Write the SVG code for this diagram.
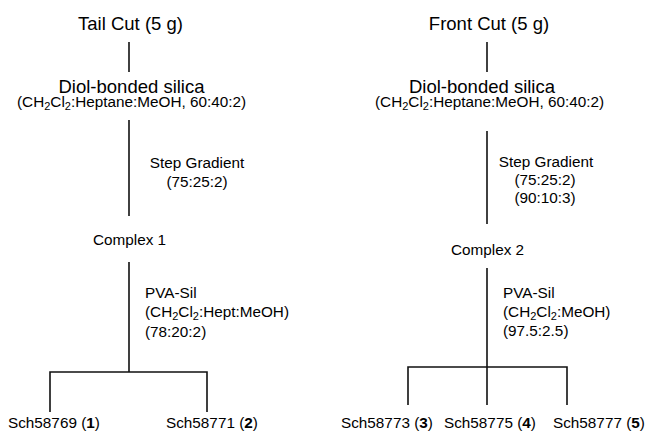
<svg xmlns="http://www.w3.org/2000/svg" width="647" height="435" viewBox="0 0 647 435">
<style>
text{font-family:"Liberation Sans",Arial,sans-serif;fill:#000}
.big{font-size:18.5px}
.sm{font-size:15.3px}
.sub{font-size:11px}
.c{text-anchor:middle}
.ln{stroke:#111;stroke-width:1.6;fill:none}
</style>
<rect width="647" height="435" fill="#fff"/>
<g id="connectors">
<line class="ln" x1="129" y1="42" x2="129" y2="72"/>
<line class="ln" x1="129" y1="120" x2="129" y2="216"/>
<path class="ln" d="M129 262V372M50 412V372H207V412"/>
<line class="ln" x1="487" y1="42" x2="487" y2="72"/>
<line class="ln" x1="487" y1="131" x2="487" y2="224"/>
<path class="ln" d="M487 268V405M408 405V367H567V405"/>
</g>
<g id="tail-cut"><text class="big c" x="130.5" y="30">Tail Cut (5 g)</text></g>
<g id="diol-left">
<text class="big c" x="131.5" y="93">Diol-bonded silica</text>
<text class="sm" x="17" y="107">(CH<tspan class="sub" dy="3">2</tspan><tspan dy="-3">Cl</tspan><tspan class="sub" dy="3">2</tspan><tspan dy="-3">:Heptane:MeOH, 60:40:2)</tspan></text>
</g>
<g id="step-left">
<text class="sm c" x="197" y="168">Step Gradient</text>
<text class="sm c" x="197" y="187">(75:25:2)</text>
</g>
<g id="complex1"><text class="sm c" x="129.5" y="245">Complex 1</text></g>
<g id="pva-left">
<text class="sm" x="145" y="298">PVA-Sil</text>
<text class="sm" x="145" y="317">(CH<tspan class="sub" dy="3">2</tspan><tspan dy="-3">Cl</tspan><tspan class="sub" dy="3">2</tspan><tspan dy="-3">:Hept:MeOH)</tspan></text>
<text class="sm" x="145" y="337">(78:20:2)</text>
</g>
<g id="sch1"><text class="sm" x="8" y="428">Sch58769 (<tspan font-weight="bold">1</tspan>)</text></g>
<g id="sch2"><text class="sm" x="166" y="428">Sch58771 (<tspan font-weight="bold">2</tspan>)</text></g>
<g id="front-cut"><text class="big c" x="489" y="30">Front Cut (5 g)</text></g>
<g id="diol-right">
<text class="big c" x="482" y="93">Diol-bonded silica</text>
<text class="sm" x="375" y="107">(CH<tspan class="sub" dy="3">2</tspan><tspan dy="-3">Cl</tspan><tspan class="sub" dy="3">2</tspan><tspan dy="-3">:Heptane:MeOH, 60:40:2)</tspan></text>
</g>
<g id="step-right">
<text class="sm c" x="546" y="167">Step Gradient</text>
<text class="sm c" x="545" y="185">(75:25:2)</text>
<text class="sm c" x="545" y="203">(90:10:3)</text>
</g>
<g id="complex2"><text class="sm c" x="487.5" y="255">Complex 2</text></g>
<g id="pva-right">
<text class="sm" x="503" y="298">PVA-Sil</text>
<text class="sm" x="503" y="317">(CH<tspan class="sub" dy="3">2</tspan><tspan dy="-3">Cl</tspan><tspan class="sub" dy="3">2</tspan><tspan dy="-3">:MeOH)</tspan></text>
<text class="sm" x="503" y="336">(97.5:2.5)</text>
</g>
<g id="sch3"><text class="sm" x="341" y="428">Sch58773 (<tspan font-weight="bold">3</tspan>)</text></g>
<g id="sch4"><text class="sm" x="444" y="428">Sch58775 (<tspan font-weight="bold">4</tspan>)</text></g>
<g id="sch5"><text class="sm" x="553" y="428">Sch58777 (<tspan font-weight="bold">5</tspan>)</text></g>
</svg>
